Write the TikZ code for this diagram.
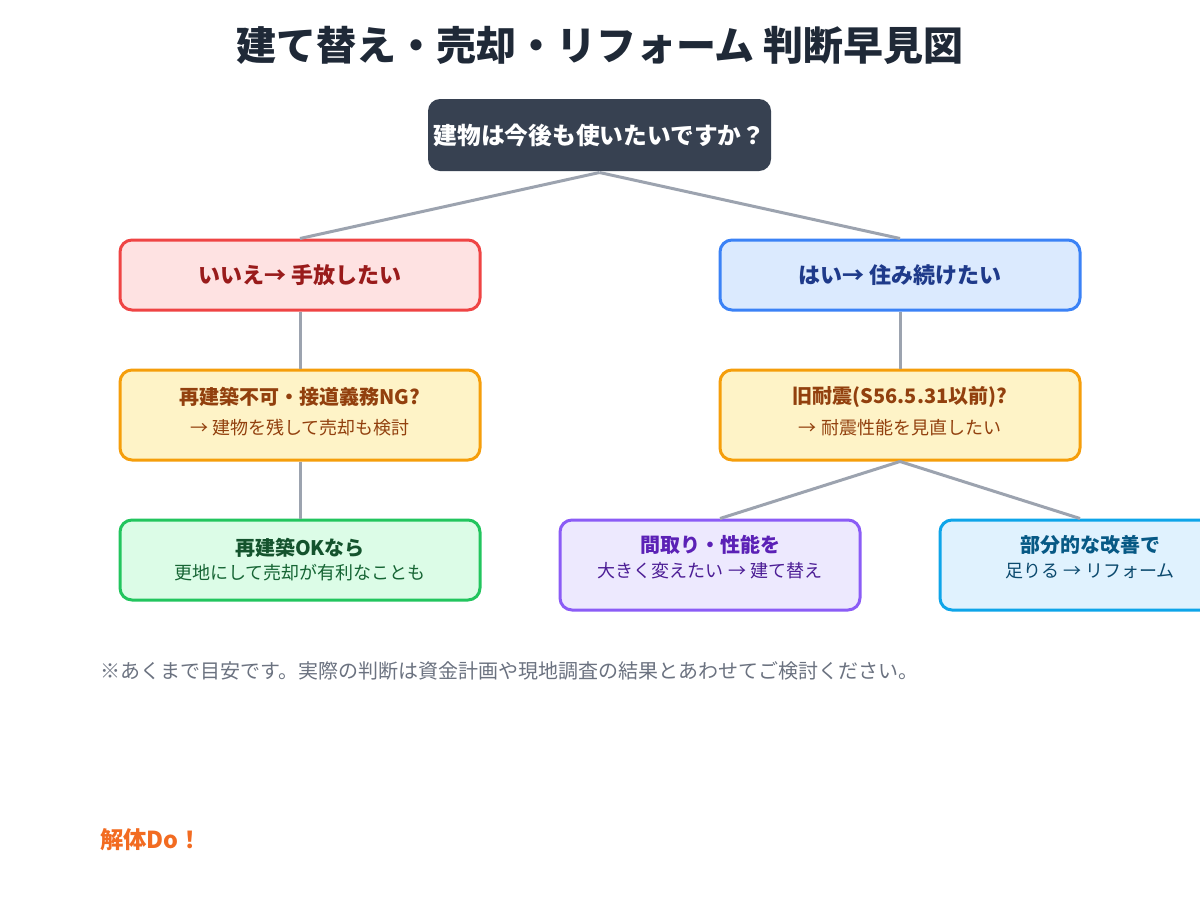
\documentclass[tikz,border=0pt]{standalone}
\usepackage{fontspec}
\setmainfont{Noto Sans CJK JP}
\definecolor{rootfill}{HTML}{374151}
\definecolor{linec}{HTML}{9CA3AF}
\definecolor{redfill}{HTML}{FEE2E2}\definecolor{redline}{HTML}{EF4444}\definecolor{redtext}{HTML}{991B1B}
\definecolor{bluefill}{HTML}{DBEAFE}\definecolor{blueline}{HTML}{3B82F6}\definecolor{bluetext}{HTML}{1E3A8A}
\definecolor{ambfill}{HTML}{FEF3C7}\definecolor{ambline}{HTML}{F59E0B}\definecolor{ambtext}{HTML}{92400E}
\definecolor{grnfill}{HTML}{DCFCE7}\definecolor{grnline}{HTML}{22C55E}\definecolor{grntext}{HTML}{14532D}\definecolor{grntextb}{HTML}{166534}
\definecolor{purfill}{HTML}{EDE9FE}\definecolor{purline}{HTML}{8B5CF6}\definecolor{purtext}{HTML}{5B21B6}\definecolor{purtextb}{HTML}{4C1D95}
\definecolor{skyfill}{HTML}{E0F2FE}\definecolor{skyline}{HTML}{0EA5E9}\definecolor{skytext}{HTML}{075985}\definecolor{skytextb}{HTML}{0C4A6E}
\definecolor{titlec}{HTML}{1F2937}
\definecolor{notec}{HTML}{6B7280}
\definecolor{brandc}{HTML}{F26B21}
\tikzset{
  box/.style={rectangle, rounded corners=9pt, line width=2.25pt, inner sep=0pt},
  wide/.style={minimum width=270pt},
  narrow/.style={minimum width=225pt},
  conn/.style={draw=linec, line width=2.25pt},
  head/.style={font=\fontsize{15}{18}\selectfont\bfseries, inner sep=0pt},
  sub/.style={font=\fontsize{13.5}{16}\selectfont, inner sep=0pt},
}
\begin{document}
\begin{tikzpicture}[x=0.75pt,y=-0.75pt]
\useasboundingbox (0,0) rectangle (1200,900);
\fill[white] (0,0) rectangle (1200,900);
% title
\node[font=\fontsize{30}{36}\selectfont\bfseries, text=titlec, inner sep=0pt] (title) at (600,45) {建て替え・売却・リフォーム 判断早見図};
% boxes
\node[box, fill=rootfill, minimum width=257.25pt, minimum height=54pt,
      font=\fontsize{17.8}{20}\selectfont\bfseries, text=white] (root) at (599.5,135) {建物は今後も使いたいですか？};
\node[box, wide, fill=redfill, draw=redline, minimum height=52.5pt,
      font=\fontsize{16.5}{19}\selectfont\bfseries, text=redtext] (no) at (300,275) {いいえ→ 手放したい};
\node[box, wide, fill=bluefill, draw=blueline, minimum height=52.5pt,
      font=\fontsize{16.5}{19}\selectfont\bfseries, text=bluetext] (yes) at (900,275) {はい→ 住み続けたい};
\node[box, wide, fill=ambfill, draw=ambline, minimum height=67.5pt] (q1) at (300,415) {};
\node[box, wide, fill=ambfill, draw=ambline, minimum height=67.5pt] (q2) at (900,415) {};
\node[box, wide, fill=grnfill, draw=grnline, minimum height=60pt] (ok) at (300,560) {};
\node[box, narrow, fill=purfill, draw=purline, minimum height=67.5pt] (p) at (710,565) {};
\node[box, narrow, fill=skyfill, draw=skyline, minimum height=67.5pt] (r) at (1090,565) {};
% connectors
\draw[conn] (root.south) -- (no.north);
\draw[conn] (root.south) -- (yes.north);
\draw[conn] (no.south) -- (q1.north);
\draw[conn] (yes.south) -- (q2.north);
\draw[conn] (q1.south) -- (ok.north);
\draw[conn] (q2.south) -- ([xshift=7.5pt]p.north);
\draw[conn] (q2.south) -- ([xshift=-7.5pt]r.north);
% box texts
\node[head, text=ambtext] (q1a) at (300,397) {再建築不可・接道義務NG?};
\node[sub, text=ambtext] (q1b) at (300,428) {→ 建物を残して売却も検討};
\node[head, text=ambtext] (q2a) at (900,397) {旧耐震(S56.5.31以前)?};
\node[sub, text=ambtext] (q2b) at (900,428) {→ 耐震性能を見直したい};
\node[head, text=grntext] (oka) at (300,548) {再建築OKなら};
\node[sub, text=grntextb] (okb) at (300,573) {更地にして売却が有利なことも};
\node[head, text=purtext] (pa) at (710,545) {間取り・性能を};
\node[sub, text=purtextb] (pb) at (710,571) {大きく変えたい → 建て替え};
\node[head, text=skytext] (ra) at (1090,545) {部分的な改善で};
\node[sub, text=skytextb] (rb) at (1090,571) {足りる → リフォーム};
% footer
\node[anchor=west, inner sep=0pt, font=\fontsize{15}{18}\selectfont, text=notec] (note) at (100,671) {※あくまで目安です。実際の判断は資金計画や現地調査の結果とあわせてご検討ください。};
\node[anchor=west, inner sep=0pt, font=\fontsize{17.5}{20}\selectfont\bfseries, text=brandc] (brand) at (100,840) {解体Do！};
\end{tikzpicture}
\end{document}
